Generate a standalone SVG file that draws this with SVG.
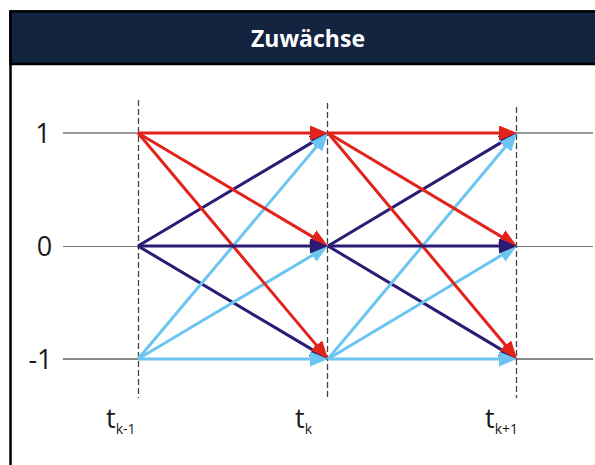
<svg xmlns="http://www.w3.org/2000/svg" width="595" height="465" viewBox="0 0 595 465">
<style>
.lbl{font-family:"Open Sans","Liberation Sans",sans-serif;fill:#1a1a1a}
.row{font-size:27px;text-anchor:middle}
.tt{font-size:27px}
.dash{stroke:#444;stroke-width:1.3;stroke-dasharray:6 3;fill:none}
.r{stroke:#E2231A;stroke-width:3;fill:none}
.n{stroke:#2A1B73;stroke-width:3;fill:none}
.b{stroke:#6CC5F0;stroke-width:3;fill:none}
.r{marker-end:url(#hr)}
.n{marker-end:url(#hn)}
.b{marker-end:url(#hb)}
</style>
<defs>
<marker id="hr" markerUnits="userSpaceOnUse" markerWidth="18" markerHeight="15" refX="10" refY="7.5" orient="auto"><path d="M0,0 L18,7.5 L0,15 z" fill="#E2231A"/></marker>
<marker id="hn" markerUnits="userSpaceOnUse" markerWidth="18" markerHeight="15" refX="10" refY="7.5" orient="auto"><path d="M0,0 L18,7.5 L0,15 z" fill="#2A1B73"/></marker>
<marker id="hb" markerUnits="userSpaceOnUse" markerWidth="18" markerHeight="15" refX="10" refY="7.5" orient="auto"><path d="M0,0 L18,7.5 L0,15 z" fill="#6CC5F0"/></marker>
</defs>
<rect width="595" height="465" fill="#fff"/>
<g id="frame">
<rect x="10.5" y="11.5" width="600" height="500" fill="#fff" stroke="#000" stroke-width="2.5"/>
<rect x="10.5" y="11.5" width="600" height="52.5" fill="#12243F" stroke="#000" stroke-width="2.5"/>
<text x="308" y="47" font-family="'Open Sans','Liberation Sans',sans-serif" font-weight="bold" font-size="23" fill="#fff" text-anchor="middle">Zuwächse</text>
</g>
<g id="grid">
<line x1="63" y1="133" x2="593" y2="133" stroke="#333" stroke-width="1"/>
<line x1="63" y1="246.5" x2="593" y2="246.5" stroke="#777" stroke-width="1.2"/>
<line x1="63" y1="359" x2="593" y2="359" stroke="#111" stroke-width="1"/>
<line class="dash" x1="138.5" y1="100" x2="138.5" y2="398"/>
<line class="dash" x1="327.5" y1="103" x2="327.5" y2="398"/>
<line class="dash" x1="516.5" y1="107" x2="516.5" y2="398"/>
</g>
<g id="row-labels" class="lbl">
<text class="row" x="43" y="143">1</text>
<text class="row" x="44.5" y="256">0</text>
<text class="row" x="40.5" y="369">-1</text>
</g>
<g id="time-labels" class="lbl">
<text class="tt" x="106" y="428">t<tspan font-size="14" dy="6">k-1</tspan></text>
<text class="tt" x="295" y="428">t<tspan font-size="14" dy="6">k</tspan></text>
<text class="tt" x="485" y="428">t<tspan font-size="14" dy="6">k+1</tspan></text>
</g>
<g id="connectors">
<!-- segment t(k-1) -> t(k) -->
<line class="n" x1="138" y1="246" x2="321.1" y2="137.1"/>
<line class="n" x1="138" y1="246" x2="321.1" y2="354.9"/>
<line class="b" x1="138" y1="359" x2="322.85" y2="139.12"/>
<line class="b" x1="138" y1="359" x2="321.1" y2="250.1"/>
<line class="r" x1="138" y1="133" x2="321.1" y2="241.9"/>
<line class="r" x1="138" y1="133" x2="322.85" y2="352.88"/>
<line class="b" x1="138" y1="359" x2="320" y2="359"/>
<line class="n" x1="138" y1="246" x2="320" y2="246"/>
<line class="r" x1="138" y1="133" x2="320" y2="133"/>
<!-- segment t(k) -> t(k+1) -->
<line class="n" x1="328" y1="246" x2="510.1" y2="137.1"/>
<line class="n" x1="328" y1="246" x2="510.1" y2="354.9"/>
<line class="b" x1="328" y1="359" x2="511.85" y2="139.12"/>
<line class="b" x1="328" y1="359" x2="510.1" y2="250.1"/>
<line class="r" x1="328" y1="133" x2="510.1" y2="241.9"/>
<line class="r" x1="328" y1="133" x2="511.85" y2="352.88"/>
<line class="b" x1="328" y1="359" x2="509" y2="359"/>
<line class="n" x1="328" y1="246" x2="509" y2="246"/>
<line class="r" x1="328" y1="133" x2="509" y2="133"/>
</g>
</svg>
